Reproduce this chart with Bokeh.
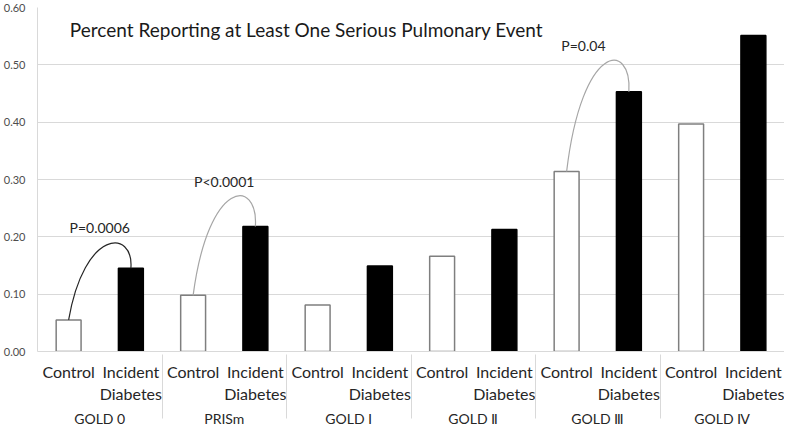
from bokeh.plotting import figure
from bokeh.models import FactorRange, ColumnDataSource, Label, Range1d, CustomJSTickFormatter
from bokeh.embed import file_html
from bokeh.resources import INLINE

# ---- data ----
groups = ["GOLD 0", "PRISm", "GOLD \u2160", "GOLD \u2161", "GOLD \u2162", "GOLD \u2163"]
subgroups = ["Control\n\u00a0", "Incident\nDiabetes"]
control = [0.055, 0.098, 0.081, 0.166, 0.314, 0.397]
diabetes = [0.145, 0.218, 0.149, 0.213, 0.453, 0.551]
title_text = "Percent Reporting at Least One Serious Pulmonary Event"
y_ticks = [0.0, 0.1, 0.2, 0.3, 0.4, 0.5, 0.6]

# significance annotations
arc_groups = ["GOLD 0", "PRISm", "GOLD \u2162"]
arc_peaks = [0.186, 0.267, 0.502]
p_texts = ["P=0.0006", "P<0.0001", "P=0.04"]
p_text_y = [0.217, 0.297, 0.533]
p_text_dx = [1.0, 1.0, 0.77]
arc_colors = ["#262626", "#a6a6a6", "#a6a6a6"]

FONT = "Lato"

factors = [(g, s) for g in groups for s in subgroups]
tops, fills, lines = [], [], []
for c, d in zip(control, diabetes):
    tops += [c, d]
    fills += ["white", "black"]
    lines += ["#7f7f7f", "black"]

src = ColumnDataSource(dict(x=factors, top=tops, fill=fills, line=lines))

xr = FactorRange(*factors, factor_padding=0, subgroup_padding=0, group_padding=0, range_padding=0)
p = figure(x_range=xr, y_range=Range1d(0, 0.6), width=784, height=430,
           output_backend="svg", toolbar_location=None,
           min_border_left=0, min_border_right=0, min_border_top=7, min_border_bottom=0)
p.outline_line_color = None
p.background_fill_color = "white"
p.border_fill_color = "white"

p.vbar(x="x", top="top", width=0.4, bottom=0, fill_color="fill", line_color="line",
       line_width=1.5, source=src)

# arcs
x0s, y0s, x1s, y1s, cx0s, cy0s, cx1s, cy1s = [], [], [], [], [], [], [], []
for g, pk in zip(arc_groups, arc_peaks):
    gi = groups.index(g)
    xa = 2 * gi + 0.5
    xb = 2 * gi + 1.5
    ya = control[gi]
    yb = diabetes[gi]
    h = (pk - (ya + yb) / 8) / 0.75
    x0s.append(xa); y0s.append(ya); x1s.append(xb); y1s.append(yb)
    cx0s.append(xa + 0.25); cy0s.append(h)
    cx1s.append(xa + 1.05); cy1s.append(h)
arc_src = ColumnDataSource(dict(x0=x0s, y0=y0s, x1=x1s, y1=y1s, cx0=cx0s, cy0=cy0s,
                                cx1=cx1s, cy1=cy1s, color=arc_colors))
p.bezier(x0="x0", y0="y0", x1="x1", y1="y1", cx0="cx0", cy0="cy0", cx1="cx1", cy1="cy1",
         line_color="color", line_width=1.2, source=arc_src)

for g, t, ty, dx in zip(arc_groups, p_texts, p_text_y, p_text_dx):
    gi = groups.index(g)
    p.add_layout(Label(x=2 * gi + dx, y=ty, text=t, text_align="center",
                       text_baseline="middle", text_font=FONT, text_font_size="14px",
                       text_color="#262626"))

p.add_layout(Label(x=0.52, y=0.561, text=title_text, text_align="left",
                   text_baseline="middle", text_font=FONT, text_font_size="19px",
                   text_color="#1a1a1a"))

# axes
p.xgrid.grid_line_color = None
p.ygrid.grid_line_color = "#d9d9d9"
p.ygrid.grid_line_width = 1
p.yaxis.ticker = y_ticks
p.yaxis.formatter = CustomJSTickFormatter(code="return tick.toFixed(2);")
p.yaxis.major_tick_line_color = None
p.yaxis.minor_tick_line_color = None
p.yaxis.axis_line_color = "#d9d9d9"
p.yaxis.major_label_text_font = FONT
p.yaxis.major_label_text_font_size = "11px"
p.yaxis.major_label_text_color = "#4d4d4d"
p.yaxis.major_label_standoff = 6

p.xaxis.axis_line_color = "#d9d9d9"
p.xaxis.major_tick_line_color = None
p.xaxis.minor_tick_line_color = None
p.xaxis.major_label_text_font = FONT
p.xaxis.major_label_text_font_size = "16px"
p.xaxis.major_label_text_color = "#262626"
p.xaxis.major_label_standoff = 4
p.xaxis.group_text_font = FONT
p.xaxis.group_text_font_size = "14px"
p.xaxis.group_text_font_style = "normal"
p.xaxis.group_text_color = "#262626"
try:
    p.xaxis.separator_line_color = "#d9d9d9"
    p.xaxis.separator_line_width = 1
except Exception:
    pass

open("out.html", "w").write(file_html(p, INLINE))
